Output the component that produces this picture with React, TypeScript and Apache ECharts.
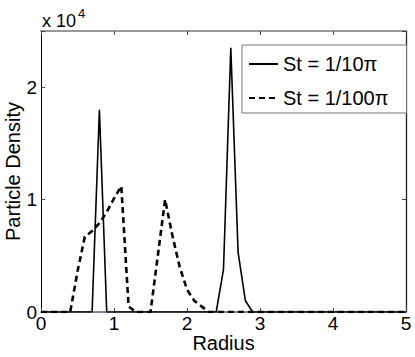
import React, { useEffect, useRef } from 'react';
import * as echarts from 'echarts';

const radius = [
  0.0, 0.1, 0.2, 0.3, 0.4, 0.5, 0.6, 0.7, 0.8, 0.9,
  1.0, 1.1, 1.2, 1.3, 1.4, 1.5, 1.6, 1.7, 1.8, 1.9,
  2.0, 2.1, 2.2, 2.3, 2.4, 2.5, 2.6, 2.7, 2.8, 2.9,
  3.0, 3.1, 3.2, 3.3, 3.4, 3.5, 3.6, 3.7, 3.8, 3.9,
  4.0, 4.1, 4.2, 4.3, 4.4, 4.5, 4.6, 4.7, 4.8, 4.9,
  5.0,
];

// St = 1/10π (solid)
const densitySt10 = [
  0, 0, 0, 0, 0, 0, 0, 0, 18000, 0,
  0, 0, 0, 0, 0, 0, 0, 0, 0, 0,
  0, 0, 0, 0, 0, 3800, 23500, 5300, 1000, 0,
  0, 0, 0, 0, 0, 0, 0, 0, 0, 0,
  0, 0, 0, 0, 0, 0, 0, 0, 0, 0,
  0,
];

// St = 1/100π (dashed)
const densitySt100 = [
  0, 0, 0, 0, 0, 3600, 6700, 7200, 7900, 8900,
  10100, 11200, 500, 0, 0, 0, 5000, 10000, 6800, 4000,
  2000, 1000, 500, 0, 0, 0, 0, 0, 0, 0,
  0, 0, 0, 0, 0, 0, 0, 0, 0, 0,
  0, 0, 0, 0, 0, 0, 0, 0, 0, 0,
  0,
];

const seriesNames = ['St = 1/10π', 'St = 1/100π'];
const xRange = [0, 5];
const yRange = [0, 25000];
const yStep = 10000;
const yExponentBase = 'x 10';
const yExponent = '4';

const FONT = '"Liberation Sans", Helvetica, Arial, sans-serif';

export default function App() {
  const ref = useRef<HTMLDivElement>(null);

  useEffect(() => {
    if (!ref.current) return;
    const chart = echarts.init(ref.current, undefined, { renderer: 'svg' });
    const pair = (ys: number[]) => radius.map((r, i) => [r, ys[i]]);
    const hiddenAxis = {
      axisLabel: { show: false },
      splitLine: { show: false },
      axisTick: { show: true, inside: true, length: 4, lineStyle: { color: '#444' } },
    };
    chart.setOption({
      animation: false,
      backgroundColor: '#fff',
      textStyle: { fontFamily: FONT },
      grid: {
        left: 41,
        top: 31,
        right: 9,
        bottom: 45,
        containLabel: false,
        outerBoundsMode: 'none',
      },
      legend: {
        orient: 'vertical',
        left: 242,
        top: 45,
        data: seriesNames,
        itemWidth: 29,
        itemHeight: 20,
        itemGap: 14,
        padding: [9, 18, 5, 6],
        borderColor: '#777',
        borderWidth: 1,
        backgroundColor: '#fff',
        itemStyle: { opacity: 0 },
        textStyle: { fontFamily: FONT, fontSize: 20, color: '#000', lineHeight: 20 },
      },
      xAxis: [
        {
          type: 'value',
          min: xRange[0],
          max: xRange[1],
          interval: 1,
          position: 'bottom',
          name: 'Radius',
          nameLocation: 'middle',
          nameGap: 21,
          nameMoveOverlap: false,
          nameTextStyle: { fontFamily: FONT, fontSize: 20, color: '#000' },
          axisLine: { show: true, onZero: false, lineStyle: { color: '#888', width: 2 } },
          axisTick: { show: true, inside: true, length: 4, lineStyle: { color: '#444' } },
          axisLabel: { fontFamily: FONT, fontSize: 19, color: '#000', margin: 2 },
          splitLine: { show: false },
        },
        {
          type: 'value',
          min: xRange[0],
          max: xRange[1],
          interval: 1,
          position: 'top',
          axisLine: { show: true, onZero: false, lineStyle: { color: '#999', width: 2 } },
          ...hiddenAxis,
        },
      ],
      yAxis: [
        {
          type: 'value',
          min: yRange[0],
          max: yRange[1],
          interval: yStep,
          position: 'left',
          name: 'Particle Density',
          nameLocation: 'middle',
          nameGap: 18,
          nameMoveOverlap: false,
          nameTextStyle: { fontFamily: FONT, fontSize: 20, color: '#000' },
          axisLine: { show: true, onZero: false, lineStyle: { color: '#000', width: 1 } },
          axisTick: { show: true, inside: true, length: 4, lineStyle: { color: '#444' } },
          axisLabel: {
            fontFamily: FONT,
            fontSize: 19,
            color: '#000',
            margin: 4,
            formatter: (v: number) => (v % yStep === 0 ? String(v / yStep) : ''),
          },
          splitLine: { show: false },
        },
        {
          type: 'value',
          min: yRange[0],
          max: yRange[1],
          interval: yStep,
          position: 'right',
          axisLine: { show: true, onZero: false, lineStyle: { color: '#222', width: 1.3 } },
          ...hiddenAxis,
        },
      ],
      graphic: [
        {
          type: 'text',
          left: 42,
          top: 12,
          style: { text: yExponentBase, fontFamily: FONT, fontSize: 18, fill: '#000' },
        },
        {
          type: 'text',
          left: 78,
          top: 7,
          style: { text: yExponent, fontFamily: FONT, fontSize: 13, fill: '#000' },
        },
      ],
      series: [
        {
          name: seriesNames[0],
          type: 'line',
          data: pair(densitySt10),
          symbol: 'none',
          lineStyle: { color: '#000', width: 1.6, type: 'solid' },
          itemStyle: { color: '#000', opacity: 0 },
          z: 3,
        },
        {
          name: seriesNames[1],
          type: 'line',
          data: pair(densitySt100),
          symbol: 'none',
          lineStyle: { color: '#000', width: 2.6, type: [6, 4] },
          itemStyle: { color: '#000', opacity: 0 },
          z: 3,
        },
      ],
    });
    return () => chart.dispose();
  }, []);

  return (
    <div
      ref={ref}
      style={{ position: 'fixed', left: 0, top: 0, width: 415, height: 357 }}
    />
  );
}
